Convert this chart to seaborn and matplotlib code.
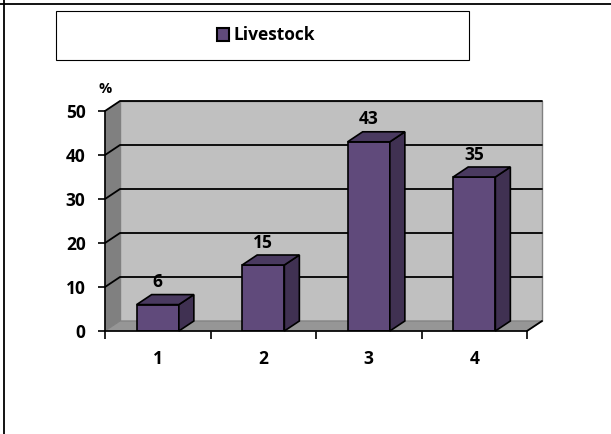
import matplotlib
matplotlib.use('Agg')
import matplotlib.pyplot as plt
import seaborn as sns
from matplotlib.patches import Polygon, Rectangle
from matplotlib.lines import Line2D

categories = ['1', '2', '3', '4']
values = [6, 15, 43, 35]
yticks = [0, 10, 20, 30, 40, 50]
series_name = 'Livestock'

sns.set_style('white')
plt.rcParams['font.family'] = ['Open Sans', 'DejaVu Sans']
plt.rcParams['text.color'] = 'black'
plt.rcParams['xtick.color'] = 'black'
plt.rcParams['ytick.color'] = 'black'
plt.rcParams['xtick.labelcolor'] = 'black'
plt.rcParams['ytick.labelcolor'] = 'black'

W, H = 611, 434
fig = plt.figure(figsize=(W / 100, H / 100), dpi=100)

# front plane of the plot area, in pixels
x0, x1, y0, y1 = 105, 527, 331, 111
ax = fig.add_axes([x0 / W, 1 - y0 / H, (x1 - x0) / W, (y0 - y1) / H])

front = '#604A7B'
side = '#403152'
top = '#4A3A60'

sns.barplot(x=categories, y=values, color=front, width=0.4, saturation=1,
            edgecolor='black', linewidth=1.2, ax=ax, zorder=5)
bars = list(ax.patches)

xmin, xmax = -0.5, len(categories) - 0.5
ymax = 50
ax.set_xlim(xmin, xmax)
ax.set_ylim(0, ymax)

# depth offset in data units (15 px right, 10 px up)
dx = 15 / ((x1 - x0) / len(categories))
dy = 10 / ((y0 - y1) / ymax)

# walls and floor
ax.add_patch(Rectangle((xmin + dx, dy), xmax - xmin, ymax, facecolor='#C0C0C0',
                       edgecolor='#808080', lw=1, clip_on=False, zorder=0))
ax.add_patch(Polygon([(xmin, 0), (xmin + dx, dy), (xmin + dx, ymax + dy), (xmin, ymax)],
                     closed=True, facecolor='#808080', edgecolor='#808080', lw=0.5,
                     clip_on=False, zorder=0))
ax.add_patch(Polygon([(xmin, 0), (xmax, 0), (xmax + dx, dy), (xmin + dx, dy)],
                     closed=True, facecolor='#969696', edgecolor='#808080', lw=0.8,
                     clip_on=False, zorder=1))
for t in yticks[1:]:
    ax.plot([xmin, xmin + dx, xmax + dx], [t, t + dy, t + dy], color='black', lw=1.3,
            clip_on=False, zorder=2)
ax.plot([xmax, xmax + dx], [0, dy], color='black', lw=1.3, clip_on=False, zorder=2)

# 3D tops and sides for each bar
for p, v in zip(bars, values):
    bx, bw, bh = p.get_x(), p.get_width(), p.get_height()
    ax.add_patch(Polygon([(bx + bw, 0), (bx + bw + dx, dy), (bx + bw + dx, bh + dy), (bx + bw, bh)],
                         closed=True, facecolor=side, edgecolor='black', lw=1.2,
                         clip_on=False, zorder=5))
    ax.add_patch(Polygon([(bx, bh), (bx + dx, bh + dy), (bx + bw + dx, bh + dy), (bx + bw, bh)],
                         closed=True, facecolor=top, edgecolor='black', lw=1.2,
                         clip_on=False, zorder=5))
    ax.annotate(str(v), (bx + bw / 2, bh + dy), xytext=(0, 2.5), textcoords='offset points',
                ha='center', va='bottom', fontsize=12.5, fontweight='bold', color='black',
                zorder=6, annotation_clip=False)

# axes lines and ticks
for s in ['top', 'right']:
    ax.spines[s].set_visible(False)
for s in ['left', 'bottom']:
    ax.spines[s].set_color('black')
    ax.spines[s].set_linewidth(1.2)
    ax.spines[s].set_zorder(7)
ax.set_yticks(yticks)
ax.set_yticklabels([str(t) for t in yticks], fontsize=12.5, fontweight='bold')
ax.set_xticks(range(len(categories)))
ax.set_xticklabels(categories, fontsize=12.5, fontweight='bold')
ax.set_xticks([c - 0.5 for c in range(len(categories) + 1)], minor=True)
ax.tick_params(axis='y', length=5, width=1.2, color='black', labelcolor='black', pad=9, left=True)
ax.tick_params(axis='x', which='major', length=0, labelcolor='black', pad=14)
ax.tick_params(axis='x', which='minor', length=6, width=1.2, color='black', bottom=True)
ax.set_xlabel('')
ax.set_ylabel('')
ax.text(0, 1.07, '%', transform=ax.transAxes, ha='center', va='bottom',
        fontsize=10.5, fontweight='bold', color='black')

# legend box
fig.add_artist(Rectangle((56 / W, 1 - 60 / H), 413 / W, 49 / H, transform=fig.transFigure,
                         facecolor='white', edgecolor='black', lw=0.8))
handle = Rectangle((0, 0), 1, 1, facecolor=front, edgecolor='black', lw=1.5)
leg = fig.legend([handle], [series_name], loc='center', bbox_to_anchor=(266 / W, 1 - 35.5 / H),
                 frameon=False, handlelength=0.7, handleheight=0.7, handletextpad=0.3,
                 prop={'weight': 'bold', 'size': 12.5})
for txt in leg.get_texts():
    txt.set_color('black')

# outer table-cell border
fig.add_artist(Line2D([0, 1], [1 - 4 / H, 1 - 4 / H], transform=fig.transFigure, color='black', lw=1.3))
fig.add_artist(Line2D([4 / W, 4 / W], [0, 1], transform=fig.transFigure, color='black', lw=1.3))

fig.savefig('out.png', dpi=100)
